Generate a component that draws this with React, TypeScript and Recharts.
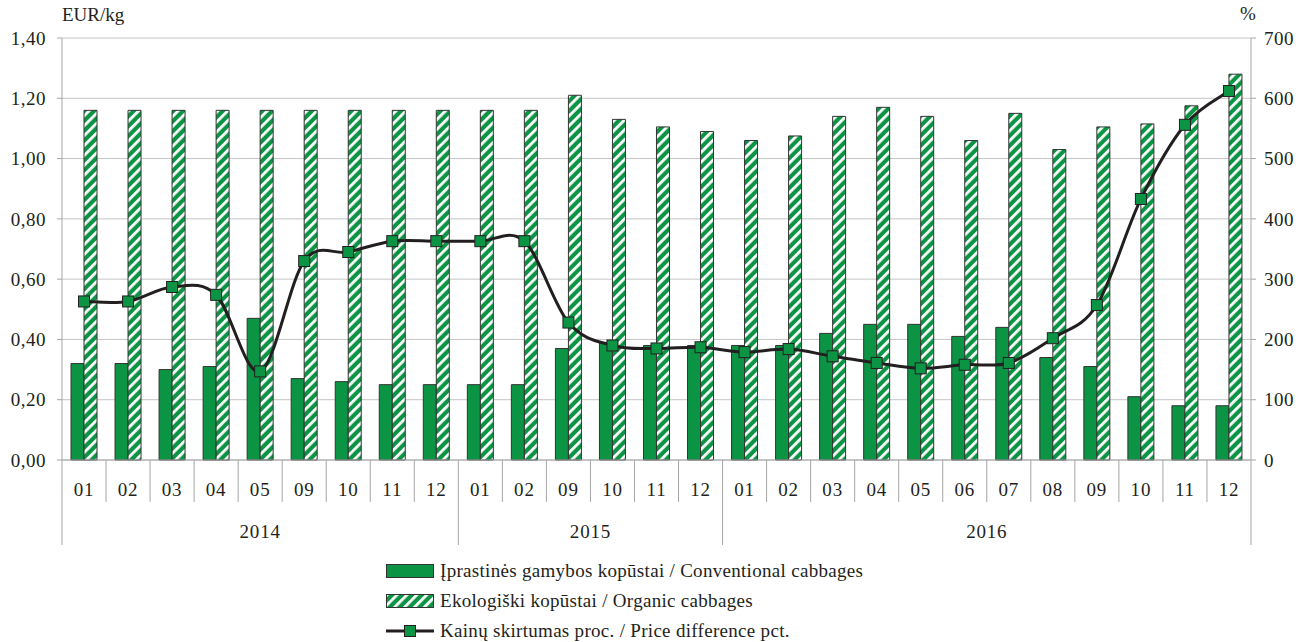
import { ComposedChart, Bar, Line, XAxis, YAxis, CartesianGrid, Legend } from 'recharts';

document.body.style.margin = '0';

// categories: month + year (two-level axis)
const months = [
  '01', '02', '03', '04', '05', '09', '10', '11', '12',
  '01', '02', '09', '10', '11', '12',
  '01', '02', '03', '04', '05', '06', '07', '08', '09', '10', '11', '12',
];
const years = [
  '2014', '2014', '2014', '2014', '2014', '2014', '2014', '2014', '2014',
  '2015', '2015', '2015', '2015', '2015', '2015',
  '2016', '2016', '2016', '2016', '2016', '2016', '2016', '2016', '2016', '2016', '2016', '2016',
];

// EUR/kg
const conventional = [
  0.32, 0.32, 0.30, 0.31, 0.47, 0.27, 0.26, 0.25, 0.25,
  0.25, 0.25, 0.37, 0.39, 0.38, 0.38,
  0.38, 0.38, 0.42, 0.45, 0.45, 0.41, 0.44, 0.34, 0.31, 0.21, 0.18, 0.18,
];
const organic = [
  1.16, 1.16, 1.16, 1.16, 1.16, 1.16, 1.16, 1.16, 1.16,
  1.16, 1.16, 1.21, 1.13, 1.105, 1.09,
  1.06, 1.075, 1.14, 1.17, 1.14, 1.06, 1.15, 1.03, 1.105, 1.115, 1.175, 1.28,
];
// %
const priceDiff = [
  263, 263, 287, 274, 147, 330, 345, 363, 363,
  363, 363, 228, 190, 185, 187,
  179, 184, 172, 161, 152, 158, 161, 202, 257, 433, 556, 612,
];

const leftTicks = [0, 0.2, 0.4, 0.6, 0.8, 1.0, 1.2, 1.4];
const rightTicks = [0, 100, 200, 300, 400, 500, 600, 700];

const NAME_CONV = 'Įprastinės gamybos kopūstai / Conventional cabbages';
const NAME_ORG = 'Ekologiški kopūstai / Organic cabbages';
const NAME_DIFF = 'Kainų skirtumas proc. / Price difference pct.';

const W = 1298;
const H = 642;
const LEFT_W = 62;
const RIGHT_W = 47;
const GREEN = '#0b9444';
const DARK = '#231f20';
const EDGE = '#333333';
const AXIS = '#a6a6a6';
const GRID = '#c4c4c4';
const FONT = "'Liberation Serif', 'Times New Roman', Tinos, 'DejaVu Serif', serif";
const FS = 19;

const data = months.map((m, i) => ({
  idx: i,
  month: m,
  year: years[i],
  conventional: conventional[i],
  organic: organic[i],
  diff: priceDiff[i],
}));

const halfBand = (W - LEFT_W - RIGHT_W) / months.length / 2;

// Excel-like smoothed line (Catmull-Rom through the points)
const excelSmooth = (context: any) => {
  let pts: [number, number][] = [];
  return {
    areaStart() {},
    areaEnd() {},
    lineStart() {
      pts = [];
    },
    point(x: number, y: number) {
      pts.push([+x, +y]);
    },
    lineEnd() {
      if (!pts.length) return;
      context.moveTo(pts[0][0], pts[0][1]);
      for (let i = 0; i < pts.length - 1; i++) {
        const p0 = pts[i - 1] || pts[i];
        const p1 = pts[i];
        const p2 = pts[i + 1];
        const p3 = pts[i + 2] || p2;
        context.bezierCurveTo(
          p1[0] + (p2[0] - p0[0]) / 6,
          p1[1] + (p2[1] - p0[1]) / 6,
          p2[0] - (p3[0] - p1[0]) / 6,
          p2[1] - (p3[1] - p1[1]) / 6,
          p2[0],
          p2[1],
        );
      }
    },
  };
};

const MonthTick = ({ x, y, payload }: any) => {
  const i = payload.value as number;
  const left = x - halfBand;
  const firstOfYear = i === 0 || years[i] !== years[i - 1];
  const last = i === months.length - 1;
  let yearLabel = null;
  if (firstOfYear) {
    let n = 0;
    while (i + n < years.length && years[i + n] === years[i]) n++;
    yearLabel = (
      <text x={left + n * halfBand} y={y + 78} textAnchor="middle" fill={DARK} fontSize={FS} fontFamily={FONT} letterSpacing={0.8}>
        {years[i]}
      </text>
    );
  }
  return (
    <g>
      <line x1={left} x2={left} y1={y} y2={firstOfYear ? y + 85 : y + 42} stroke={AXIS} />
      {last && <line x1={x + halfBand} x2={x + halfBand} y1={y} y2={y + 85} stroke={AXIS} />}
      <text x={x} y={y + 36} textAnchor="middle" fill={DARK} fontSize={FS} fontFamily={FONT} letterSpacing={0.8}>
        {months[i]}
      </text>
      {yearLabel}
    </g>
  );
};

const SquareDot = ({ cx, cy }: any) => {
  if (cx == null || cy == null) return null;
  return <rect x={cx - 5.5} y={cy - 5.5} width={11} height={11} fill={GREEN} stroke={DARK} strokeWidth={1} />;
};

const LegendContent = () => {
  const row = { display: 'flex', alignItems: 'center', height: 30 } as const;
  const text = { marginLeft: 6, fontFamily: FONT, fontSize: FS, color: DARK, whiteSpace: 'nowrap', letterSpacing: 0.3 } as const;
  return (
    <div>
      <div style={row}>
        <svg width={48} height={14}>
          <rect x={0.5} y={0.5} width={47} height={13} fill={GREEN} stroke={EDGE} />
        </svg>
        <span style={text}>{NAME_CONV}</span>
      </div>
      <div style={row}>
        <svg width={48} height={14}>
          <rect x={0.5} y={0.5} width={47} height={13} fill="url(#stripes)" stroke={EDGE} />
        </svg>
        <span style={text}>{NAME_ORG}</span>
      </div>
      <div style={row}>
        <svg width={48} height={14}>
          <line x1={0} x2={48} y1={7} y2={7} stroke={DARK} strokeWidth={3} />
          <rect x={18.5} y={1.5} width={11} height={11} fill={GREEN} stroke={DARK} />
        </svg>
        <span style={text}>{NAME_DIFF}</span>
      </div>
    </div>
  );
};

export default function App() {
  return (
    <div style={{ position: 'relative', width: W, height: H, background: '#fff' }}>
      <div style={{ position: 'absolute', left: 62, top: 4, fontFamily: FONT, fontSize: FS, color: DARK }}>EUR/kg</div>
      <div style={{ position: 'absolute', left: 1240, top: 3, fontFamily: FONT, fontSize: FS, color: DARK }}>%</div>
      <ComposedChart
        width={W}
        height={H}
        data={data}
        margin={{ top: 38, right: 0, bottom: 0, left: 0 }}
        barGap={0}
      >
        <defs>
          <pattern id="stripes" patternUnits="userSpaceOnUse" width={7} height={7} patternTransform="rotate(45)">
            <rect x={0} y={0} width={7} height={7} fill={GREEN} />
            <rect x={0} y={0} width={2.8} height={7} fill="#ffffff" />
          </pattern>
        </defs>
        <CartesianGrid vertical={false} stroke={GRID} yAxisId="left" />
        <XAxis
          dataKey="idx"
          height={H - 38 - 422}
          axisLine={{ stroke: AXIS }}
          tickLine={false}
          tickSize={0}
          tickMargin={0}
          interval={0}
          tick={<MonthTick />}
        />
        <YAxis
          yAxisId="left"
          width={LEFT_W}
          domain={[0, 1.4]}
          ticks={leftTicks}
          tickFormatter={(v: number) => v.toFixed(2).replace('.', ',')}
          axisLine={{ stroke: AXIS }}
          tickLine={{ stroke: AXIS }}
          tickSize={5}
          tickMargin={11}
          tick={{ fill: DARK, fontSize: FS, fontFamily: FONT, letterSpacing: 0.5 }}
        />
        <YAxis
          yAxisId="right"
          orientation="right"
          width={RIGHT_W}
          domain={[0, 700]}
          ticks={rightTicks}
          axisLine={{ stroke: AXIS }}
          tickLine={{ stroke: AXIS }}
          tickSize={5}
          tickMargin={8}
          tick={{ fill: DARK, fontSize: FS, fontFamily: FONT, letterSpacing: 0.5 }}
        />
        <Bar
          yAxisId="left"
          dataKey="conventional"
          name={NAME_CONV}
          fill={GREEN}
          stroke={EDGE}
          strokeWidth={1}
          barSize={13}
          isAnimationActive={false}
        />
        <Bar
          yAxisId="left"
          dataKey="organic"
          name={NAME_ORG}
          fill="url(#stripes)"
          stroke={EDGE}
          strokeWidth={1}
          barSize={13}
          isAnimationActive={false}
        />
        <Line
          yAxisId="right"
          type={excelSmooth as any}
          dataKey="diff"
          name={NAME_DIFF}
          stroke={DARK}
          strokeWidth={3}
          dot={<SquareDot />}
          activeDot={false}
          isAnimationActive={false}
        />
        <Legend
          layout="horizontal"
          verticalAlign="middle"
          align="center"
          wrapperStyle={{ top: 556, left: 386, width: 600, height: 90 }}
          content={<LegendContent />}
        />
      </ComposedChart>
    </div>
  );
}
